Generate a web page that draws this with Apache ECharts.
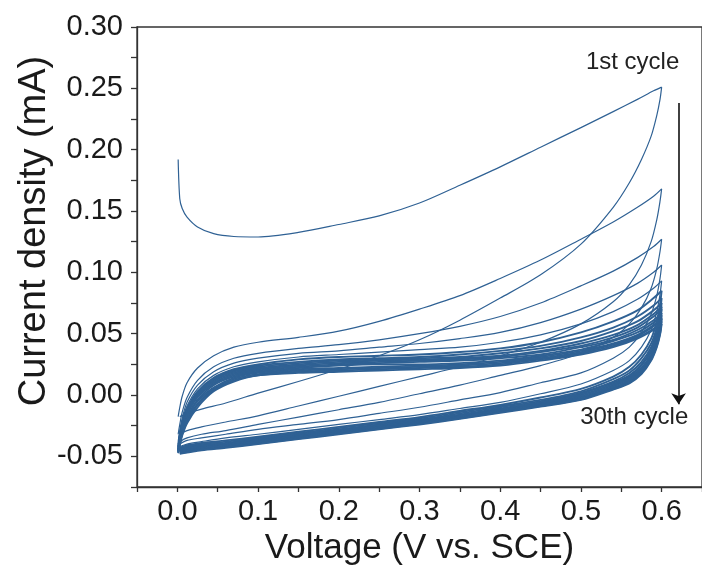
<!DOCTYPE html>
<html>
<head>
<meta charset="utf-8">
<script src="https://cdn.jsdelivr.net/npm/echarts@6/dist/echarts.min.js"></script>
<style>
html,body{margin:0;padding:0;background:#fff;}
#chart{width:702px;height:585px;}
</style>
</head>
<body>
<div id="chart"></div>
<script>
// ---- data ----
const FWD_V = [0.001, 0.003, 0.006, 0.012, 0.025, 0.045, 0.07, 0.1, 0.15, 0.2, 0.25, 0.3, 0.35, 0.4, 0.45, 0.5, 0.54, 0.57, 0.59, 0.6];
const REV_V = [0.6, 0.598, 0.594, 0.587, 0.575, 0.56, 0.54, 0.5, 0.45, 0.4, 0.35, 0.3, 0.25, 0.2, 0.15, 0.1, 0.06, 0.03, 0.012, 0.003];

const cycles = [1, 2, 3, 4, 5, 6, 7, 8, 9, 10, 12, 14, 17, 20, 25, 30];

const fwd_c1  = [0.192, 0.160, 0.152, 0.145, 0.137, 0.1315, 0.1292, 0.1288, 0.1325, 0.139, 0.146, 0.1565, 0.171, 0.186, 0.202, 0.218, 0.231, 0.241, 0.248, 0.251];
const fwd_c2  = [-0.0176, -0.010, -0.001, 0.010, 0.022, 0.032, 0.039, 0.043, 0.047, 0.052, 0.060, 0.070, 0.081, 0.095, 0.110, 0.127, 0.141, 0.153, 0.162, 0.168];
const fwd_c3  = [-0.032, -0.024, -0.014, -0.002, 0.012, 0.023, 0.030, 0.034, 0.038, 0.041, 0.045, 0.050, 0.056, 0.064, 0.075, 0.089, 0.101, 0.112, 0.121, 0.127];
const fwd_c4  = [-0.038, -0.029, -0.019, -0.006, 0.008, 0.019, 0.026, 0.030, 0.034, 0.036, 0.039, 0.042, 0.046, 0.051, 0.059, 0.070, 0.081, 0.091, 0.100, 0.106];
const fwd_c5  = [-0.040, -0.031, -0.021, -0.009, 0.005, 0.016, 0.023, 0.027, 0.031, 0.033, 0.035, 0.037, 0.039, 0.043, 0.049, 0.058, 0.068, 0.078, 0.087, 0.093];
const fwd_c6  = [-0.042, -0.033, -0.023, -0.011, 0.003, 0.014, 0.021, 0.025, 0.029, 0.031, 0.032, 0.033, 0.035, 0.038, 0.043, 0.051, 0.060, 0.069, 0.079, 0.085];
const fwd_c7  = [-0.043, -0.034, -0.024, -0.012, 0.002, 0.013, 0.020, 0.024, 0.027, 0.029, 0.030, 0.031, 0.033, 0.036, 0.040, 0.047, 0.055, 0.064, 0.073, 0.079];
const fwd_c8  = [-0.044, -0.035, -0.025, -0.013, 0.001, 0.012, 0.019, 0.023, 0.026, 0.028, 0.029, 0.030, 0.031, 0.034, 0.038, 0.044, 0.052, 0.060, 0.069, 0.075];
const fwd_c9  = [-0.0445, -0.036, -0.026, -0.014, 0.000, 0.011, 0.018, 0.022, 0.025, 0.027, 0.028, 0.029, 0.030, 0.032, 0.036, 0.042, 0.049, 0.057, 0.066, 0.072];
const fwd_c10 = [-0.045, -0.037, -0.027, -0.015, -0.001, 0.010, 0.017, 0.021, 0.024, 0.026, 0.027, 0.028, 0.029, 0.031, 0.035, 0.040, 0.047, 0.055, 0.064, 0.070];
const fwd_c12 = [-0.0455, -0.038, -0.028, -0.016, -0.002, 0.009, 0.016, 0.020, 0.023, 0.025, 0.026, 0.027, 0.028, 0.030, 0.033, 0.039, 0.045, 0.053, 0.061, 0.067];
const fwd_c14 = [-0.046, -0.039, -0.029, -0.018, -0.004, 0.008, 0.015, 0.019, 0.022, 0.024, 0.025, 0.025, 0.026, 0.028, 0.032, 0.037, 0.044, 0.051, 0.059, 0.065];
const fwd_c17 = [-0.046, -0.039, -0.030, -0.019, -0.005, 0.006, 0.014, 0.018, 0.021, 0.022, 0.023, 0.024, 0.025, 0.027, 0.031, 0.036, 0.042, 0.049, 0.057, 0.063];
const fwd_c20 = [-0.0465, -0.040, -0.031, -0.020, -0.007, 0.005, 0.013, 0.017, 0.020, 0.021, 0.022, 0.023, 0.024, 0.026, 0.030, 0.035, 0.041, 0.048, 0.056, 0.062];
const fwd_c25 = [-0.047, -0.040, -0.032, -0.022, -0.008, 0.004, 0.012, 0.016, 0.019, 0.020, 0.021, 0.022, 0.023, 0.025, 0.029, 0.034, 0.040, 0.047, 0.054, 0.060];
const fwd_c30 = [-0.0475, -0.041, -0.033, -0.023, -0.010, 0.003, 0.011, 0.016, 0.018, 0.019, 0.020, 0.021, 0.022, 0.024, 0.028, 0.033, 0.039, 0.046, 0.053, 0.058];

const rev_c1  = [0.251, 0.241, 0.228, 0.211, 0.192, 0.173, 0.153, 0.123, 0.098, 0.079, 0.061, 0.045, 0.032, 0.021, 0.011, 0.0015, -0.0065, -0.0115, -0.015, -0.0176];
const rev_c2  = [0.168, 0.158, 0.143, 0.125, 0.106, 0.090, 0.076, 0.058, 0.043, 0.032, 0.023, 0.015, 0.007, -0.001, -0.009, -0.017, -0.022, -0.026, -0.029, -0.032];
const rev_c3  = [0.127, 0.117, 0.103, 0.087, 0.071, 0.058, 0.047, 0.034, 0.024, 0.016, 0.008, 0.001, -0.006, -0.012, -0.018, -0.024, -0.029, -0.032, -0.035, -0.038];
const rev_c4  = [0.106, 0.095, 0.081, 0.066, 0.051, 0.039, 0.030, 0.018, 0.010, 0.002, -0.004, -0.010, -0.015, -0.020, -0.024, -0.028, -0.032, -0.035, -0.037, -0.040];
const rev_c5  = [0.093, 0.082, 0.068, 0.053, 0.039, 0.028, 0.020, 0.009, 0.001, -0.006, -0.011, -0.016, -0.020, -0.024, -0.028, -0.032, -0.035, -0.038, -0.040, -0.042];
const rev_c6  = [0.085, 0.074, 0.060, 0.046, 0.033, 0.023, 0.015, 0.005, -0.002, -0.008, -0.013, -0.018, -0.022, -0.026, -0.030, -0.034, -0.037, -0.039, -0.041, -0.043];
const rev_c7  = [0.079, 0.068, 0.055, 0.042, 0.030, 0.020, 0.013, 0.003, -0.004, -0.009, -0.014, -0.019, -0.023, -0.027, -0.031, -0.035, -0.038, -0.040, -0.042, -0.044];
const rev_c8  = [0.075, 0.064, 0.052, 0.039, 0.027, 0.018, 0.011, 0.002, -0.005, -0.010, -0.015, -0.020, -0.024, -0.028, -0.032, -0.036, -0.039, -0.041, -0.043, -0.0445];
const rev_c9  = [0.072, 0.061, 0.049, 0.037, 0.025, 0.016, 0.010, 0.001, -0.006, -0.011, -0.016, -0.0205, -0.0245, -0.0285, -0.0325, -0.0365, -0.0395, -0.0415, -0.0435, -0.045];
const rev_c10 = [0.070, 0.059, 0.047, 0.035, 0.024, 0.015, 0.009, 0.000, -0.006, -0.0115, -0.0165, -0.021, -0.025, -0.029, -0.033, -0.037, -0.040, -0.042, -0.044, -0.0455];
const rev_c12 = [0.067, 0.057, 0.045, 0.033, 0.022, 0.014, 0.008, -0.001, -0.007, -0.012, -0.017, -0.0215, -0.0255, -0.0295, -0.0335, -0.0375, -0.0405, -0.0425, -0.0445, -0.046];
const rev_c14 = [0.065, 0.055, 0.043, 0.032, 0.021, 0.013, 0.007, -0.002, -0.0075, -0.0125, -0.0175, -0.022, -0.026, -0.030, -0.034, -0.038, -0.041, -0.043, -0.045, -0.046];
const rev_c17 = [0.063, 0.053, 0.042, 0.031, 0.020, 0.012, 0.006, -0.0025, -0.008, -0.013, -0.018, -0.0225, -0.0265, -0.0305, -0.0345, -0.0385, -0.0415, -0.0435, -0.0455, -0.0465];
const rev_c20 = [0.062, 0.052, 0.041, 0.030, 0.019, 0.011, 0.0055, -0.003, -0.0085, -0.0135, -0.0185, -0.023, -0.027, -0.031, -0.035, -0.039, -0.042, -0.044, -0.046, -0.047];
const rev_c25 = [0.060, 0.050, 0.040, 0.029, 0.018, 0.010, 0.005, -0.0035, -0.009, -0.014, -0.019, -0.0235, -0.0275, -0.0315, -0.0355, -0.0395, -0.0425, -0.0445, -0.0465, -0.0475];
const rev_c30 = [0.058, 0.049, 0.039, 0.028, 0.017, 0.0095, 0.0045, -0.004, -0.0095, -0.0145, -0.0195, -0.024, -0.028, -0.032, -0.036, -0.040, -0.043, -0.045, -0.047, -0.048];

const xTickLabels = [0.0, 0.1, 0.2, 0.3, 0.4, 0.5, 0.6];
const xTicks = [-0.05, 0.0, 0.05, 0.1, 0.15, 0.2, 0.25, 0.3, 0.35, 0.4, 0.45, 0.5, 0.55, 0.6, 0.65];
const yTickLabels = [-0.05, 0.0, 0.05, 0.10, 0.15, 0.20, 0.25, 0.30];
const yTicks = [-0.075, -0.05, -0.025, 0.0, 0.025, 0.05, 0.075, 0.1, 0.125, 0.15, 0.175, 0.2, 0.225, 0.25, 0.275, 0.3];

const annotations = { first: '1st cycle', last: '30th cycle' };

// ---- build ----
const fwdData = {1: fwd_c1, 2: fwd_c2, 3: fwd_c3, 4: fwd_c4, 5: fwd_c5, 6: fwd_c6, 7: fwd_c7, 8: fwd_c8, 9: fwd_c9, 10: fwd_c10, 12: fwd_c12, 14: fwd_c14, 17: fwd_c17, 20: fwd_c20, 25: fwd_c25, 30: fwd_c30};
const revData = {1: rev_c1, 2: rev_c2, 3: rev_c3, 4: rev_c4, 5: rev_c5, 6: rev_c6, 7: rev_c7, 8: rev_c8, 9: rev_c9, 10: rev_c10, 12: rev_c12, 14: rev_c14, 17: rev_c17, 20: rev_c20, 25: rev_c25, 30: rev_c30};

const LINE_COLOR = '#2f6194';
const FONT = '"Liberation Sans", Arial, Helvetica, sans-serif';

const series = [];
cycles.forEach(c => {
  [['f', FWD_V, fwdData[c]], ['r', REV_V, revData[c]]].forEach(([k, vs, is]) => {
    series.push({
      name: 'cycle ' + c + k,
      type: 'line',
      data: vs.map((v, i) => [v, is[i]]),
      showSymbol: false,
      smooth: 0.3,
      silent: true,
      lineStyle: { color: LINE_COLOR, width: c <= 5 ? 1.2 : 1.9, join: 'round' },
      z: 2
    });
  });
});

series.push({
  name: 'annot',
  type: 'line',
  data: [],
  silent: true,
  markLine: {
    silent: true,
    symbol: ['none', 'arrow'],
    symbolSize: 11,
    lineStyle: { color: '#111', width: 1.6, type: 'solid' },
    label: { show: false },
    data: [[{ coord: [0.621, 0.238] }, { coord: [0.621, -0.0075] }]]
  },
  markPoint: {
    silent: true,
    symbol: 'circle',
    symbolSize: 0,
    label: {
      show: true, position: 'inside', color: '#222', fontFamily: FONT, fontSize: 24,
      formatter: p => p.name
    },
    data: [
      { name: annotations.first, coord: [0.564, 0.271] },
      { name: annotations.last, coord: [0.566, -0.0185] }
    ]
  }
});

const chart = echarts.init(document.getElementById('chart'), null, { renderer: 'canvas' });
chart.setOption({
  animation: false,
  backgroundColor: '#fff',
  grid: { left: 137, right: -3, top: 27, bottom: 98, show: true, borderColor: '#333', borderWidth: 1.3, backgroundColor: 'transparent' },
  xAxis: {
    type: 'value', min: -0.05, max: 0.65,
    name: 'Voltage (V vs. SCE)', nameLocation: 'middle', nameGap: 44, nameMoveOverlap: false,
    nameTextStyle: { fontFamily: FONT, fontSize: 35, color: '#1a1a1a' },
    axisLine: { show: true, onZero: false, lineStyle: { color: '#333', width: 1.3 } },
    axisTick: { show: true, inside: false, length: 5, lineStyle: { color: '#333', width: 1.3 }, customValues: xTicks },
    axisLabel: { fontFamily: FONT, fontSize: 29, color: '#1a1a1a', margin: 10, customValues: xTickLabels, formatter: v => v.toFixed(1) },
    splitLine: { show: false }
  },
  yAxis: {
    type: 'value', min: -0.075, max: 0.30,
    name: 'Current density (mA)', nameLocation: 'middle', nameGap: 83, nameMoveOverlap: false,
    nameTextStyle: { fontFamily: FONT, fontSize: 38, color: '#1a1a1a', padding: [0, 0, 0, 52] },
    axisLine: { show: true, onZero: false, lineStyle: { color: '#333', width: 1.3 } },
    axisTick: { show: true, inside: false, length: 6, lineStyle: { color: '#333', width: 1.3 }, customValues: yTicks },
    axisLabel: { fontFamily: FONT, fontSize: 29, color: '#1a1a1a', margin: 14, customValues: yTickLabels, formatter: v => v.toFixed(2) },
    splitLine: { show: false }
  },
  series: series
});
</script>
</body>
</html>
